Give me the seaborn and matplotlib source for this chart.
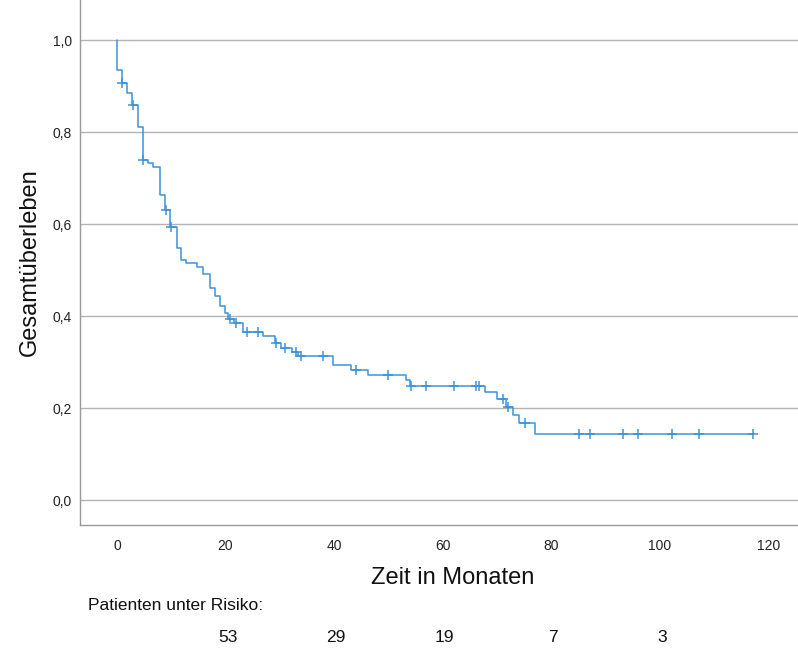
import matplotlib
matplotlib.use("Agg")
import matplotlib.pyplot as plt
import matplotlib.transforms as mtransforms
from matplotlib.ticker import FuncFormatter
import seaborn as sns
import pandas as pd

# Kaplan-Meier step curve: times (months) and survival after each step
step_times = [0.0, 0.1, 0.9, 1.8, 2.7, 3.9, 4.8, 5.8, 6.7, 7.9, 8.8, 9.8, 11.0, 11.9,
              12.8, 14.7, 15.9, 17.1, 18.0, 19.0, 19.9, 20.5, 21.5, 23.3, 27.0, 29.1,
              30.3, 32.2, 33.4, 39.9, 43.2, 46.3, 53.2, 54.0, 67.9, 70.0, 71.7, 73.0,
              74.1, 77.0, 117.3]
step_surv = [1.0, 0.935, 0.906, 0.885, 0.859, 0.811, 0.739, 0.732, 0.725, 0.663, 0.630,
             0.594, 0.547, 0.522, 0.515, 0.507, 0.491, 0.460, 0.443, 0.422, 0.406, 0.393,
             0.384, 0.366, 0.357, 0.341, 0.331, 0.321, 0.313, 0.293, 0.283, 0.272, 0.262,
             0.248, 0.234, 0.220, 0.203, 0.185, 0.168, 0.144, 0.144]

# censored observations
cens_times = [1.0, 3.0, 4.9, 9.0, 10.0, 20.9, 21.9, 23.9, 26.0, 29.3, 31.0, 33.0, 33.9,
              38.0, 44.0, 50.0, 54.2, 57.0, 62.1, 66.1, 66.8, 71.1, 72.1, 75.2, 85.2,
              87.2, 93.2, 96.1, 102.3, 107.3, 117.3]
cens_surv = [0.906, 0.859, 0.739, 0.630, 0.594, 0.393, 0.384, 0.366, 0.366, 0.341, 0.331,
             0.321, 0.313, 0.313, 0.283, 0.272, 0.248, 0.248, 0.248, 0.248, 0.248, 0.220,
             0.203, 0.168, 0.144, 0.144, 0.144, 0.144, 0.144, 0.144, 0.144]

x_ticks = [0, 20, 40, 60, 80, 100, 120]
y_ticks = [0.0, 0.2, 0.4, 0.6, 0.8, 1.0]
risk_times = [20, 40, 60, 80, 100]
risk_counts = [53, 29, 19, 7, 3]

x_label = "Zeit in Monaten"
y_label = "Gesamtüberleben"
risk_title = "Patienten unter Risiko:"

sns.set_theme(style="white")
plt.rcParams['font.family'] = ['Liberation Sans', 'DejaVu Sans']

line_color = '#3b93d8'

fig = plt.figure(figsize=(7.98, 6.52), dpi=100)
ax = fig.add_axes([80/798, 127/652, 718/798, 525/652])

df_steps = pd.DataFrame({"t": step_times, "s": step_surv})
df_cens = pd.DataFrame({"t": cens_times, "s": cens_surv})

sns.lineplot(data=df_steps, x="t", y="s", drawstyle="steps-post", estimator=None,
             color=line_color, linewidth=1.1, ax=ax, zorder=3)
sns.scatterplot(data=df_cens, x="t", y="s", marker="+", s=55, linewidth=1.1,
                color=line_color, ax=ax, zorder=4)

ax.set_xlim(-6.8, 125.5)
ax.set_ylim(-0.054, 1.087)
ax.set_xticks(x_ticks)
ax.set_yticks(y_ticks)
ax.yaxis.set_major_formatter(FuncFormatter(lambda v, p: f"{v:.1f}".replace('.', ',')))
ax.tick_params(axis='both', length=0, labelsize=10, colors='#222222')
ax.tick_params(axis='y', pad=6)
ax.tick_params(axis='x', pad=10)

ax.grid(axis='y', color='#b4b4b4', linewidth=1.0)
ax.grid(axis='x', visible=False)
ax.set_axisbelow(True)
for side in ['top', 'right']:
    ax.spines[side].set_visible(False)
for side in ['left', 'bottom']:
    ax.spines[side].set_color('#9a9a9a')
    ax.spines[side].set_linewidth(1.0)

ax.set_xlabel(x_label, fontsize=17, color='#111111')
ax.set_ylabel(y_label, fontsize=17, color='#111111')
ax.xaxis.set_label_coords((453 - 80) / 718, -0.080)
ax.yaxis.set_label_coords(-0.055, (525 - 262) / 525)

trans = mtransforms.blended_transform_factory(ax.transData, ax.transAxes)
ax.text((88 - 80) / 718, (525 - 606) / 525, risk_title, transform=ax.transAxes,
        ha='left', va='center', fontsize=12.5, color='#111111', clip_on=False)
for t, n in zip(risk_times, risk_counts):
    ax.text(t + 0.4, (525 - 637) / 525, str(n), transform=trans, ha='center', va='center',
            fontsize=12.5, color='#111111', clip_on=False)

fig.savefig("out.png", dpi=100)
